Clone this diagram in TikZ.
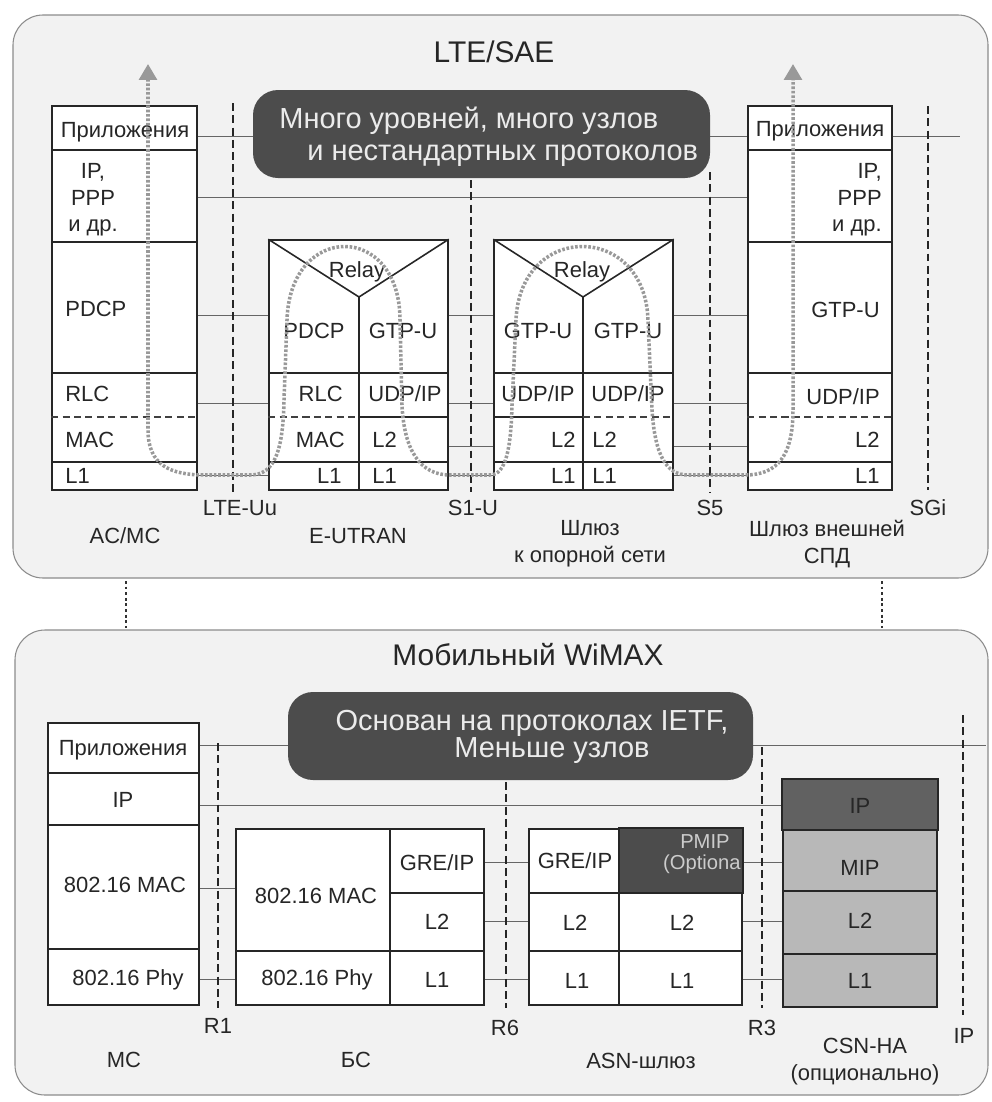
\documentclass[tikz,border=0pt]{standalone}
\usepackage{fontspec}
\setmainfont{Liberation Sans}
\usetikzlibrary{arrows.meta,fit}
\tikzset{
  panel/.style={draw=black!45, fill=black!5, line width=0.6pt, rounded corners=0.6cm},
  stack/.style={draw=black!85, fill=white, line width=0.9pt, inner sep=0pt},
  row/.style={draw=black!85, line width=0.9pt},
  subrow/.style={draw=black!75, line width=0.9pt, dash pattern=on 4pt off 2.5pt},
  link/.style={draw=black!60, line width=0.5pt},
  iface/.style={draw=black!85, line width=0.8pt, dash pattern=on 4.5pt off 2.5pt},
  joint/.style={draw=black!80, line width=1.6pt, dash pattern=on 1.6pt off 1.6pt},
  banner/.style={fill=black!70, rounded corners=0.5cm},
  bannertext/.style={text=white!92!black},
  datapath/.style={draw=black!40, line width=2pt, dash pattern=on 1.5pt off 1pt,
    {Triangle[width=10pt,length=9pt]}-{Triangle[width=10pt,length=9pt]}},
}
\begin{document}
\begin{tikzpicture}[x=0.02cm, y=-0.02cm, font=\fontsize{12.5}{15}\selectfont,
    every node/.style={inner sep=0pt, text=black!85}]
\fill[white] (0,0) rectangle (991,1102);
\useasboundingbox (0,0) rectangle (991,1102);

% panels
\draw[panel] (13,15) rectangle (988,578);
\draw[panel] (15,630) rectangle (988,1095);
\draw[joint] (126,581) -- (126,628);
\draw[joint] (882,581) -- (882,628);

% ---------------- LTE/SAE ----------------
\node[anchor=base, font=\fontsize{17}{20}\selectfont] (lte-title) at (494,62) {LTE/SAE};

\coordinate (lte-app-end) at (960,136);
\node[stack, fit={(52,106) (197,490)}] (ue) {};
\node[stack, fit={(269,240) (448,490)}] (enb) {};
\node[stack, fit={(494,240) (673,490)}] (sgw) {};
\node[stack, fit={(748,106) (892,490)}] (pgw) {};

% links between stacks
\draw[link] (ue.east |- 0,136) -- (pgw.west |- 0,136);
\draw[link] (pgw.east |- 0,136) -- (lte-app-end);
\draw[link] (ue.east |- 0,197) -- (pgw.west |- 0,197);
\foreach \y in {315,403,475} {
  \draw[link] (ue.east |- 0,\y) -- (enb.west |- 0,\y);
  \draw[link] (enb.east |- 0,\y) -- (sgw.west |- 0,\y);
  \draw[link] (sgw.east |- 0,\y) -- (pgw.west |- 0,\y);
}
\draw[link] (enb.east |- 0,446) -- (sgw.west |- 0,446);
\draw[link] (sgw.east |- 0,446) -- (pgw.west |- 0,446);

% AC/MC
\foreach \y in {150,242,373,462} \draw[row] (ue.west |- 0,\y) -- (ue.east |- 0,\y);
\draw[subrow] (ue.west |- 0,417) -- (ue.east |- 0,417);
\node[anchor=base] (ue-app) at (125,137) {Приложения};
\node[align=center] (ue-ip) at (93,200) {IP,\\PPP\\и др.};
\node[anchor=base west] (ue-pdcp) at (65,316) {PDCP};
\node[anchor=base west] (ue-rlc) at (65,401) {RLC};
\node[anchor=base west] (ue-mac) at (65,447) {MAC};
\node[anchor=base west] (ue-l1) at (65,483) {L1};

% E-UTRAN
\coordinate (enb-v) at (359,297);
\draw[row] (enb.north west) -- (enb-v) -- (enb.north east);
\draw[row] (enb-v) -- (enb-v |- enb.south);
\foreach \y in {373,462} \draw[row] (enb.west |- 0,\y) -- (enb.east |- 0,\y);
\draw[subrow] (enb.west |- 0,417) -- (enb-v |- 0,417);
\draw[row] (enb-v |- 0,417) -- (enb.east |- 0,417);
\node[anchor=base] (enb-relay) at (357,277) {Relay};
\node[anchor=base] (enb-pdcp) at (314,338) {PDCP};
\node[anchor=base] (enb-gtp) at (403,338) {GTP-U};
\node[anchor=base east] (enb-rlc) at (343,401) {RLC};
\node[anchor=base] (enb-udp) at (405,401) {UDP/IP};
\node[anchor=base east] (enb-mac) at (345,447) {MAC};
\node[anchor=base west] (enb-l2) at (372,447) {L2};
\node[anchor=base east] (enb-l1a) at (342,483) {L1};
\node[anchor=base west] (enb-l1b) at (372,483) {L1};

% core gateway
\coordinate (sgw-v) at (583,297);
\draw[row] (sgw.north west) -- (sgw-v) -- (sgw.north east);
\draw[row] (sgw-v) -- (sgw-v |- sgw.south);
\foreach \y in {373,462} \draw[row] (sgw.west |- 0,\y) -- (sgw.east |- 0,\y);
\draw[row] (sgw.west |- 0,417) -- (sgw-v |- 0,417);
\draw[subrow] (sgw-v |- 0,417) -- (sgw.east |- 0,417);
\node[anchor=base] (sgw-relay) at (582,277) {Relay};
\node[anchor=base] (sgw-gtpa) at (538,338) {GTP-U};
\node[anchor=base] (sgw-gtpb) at (628,338) {GTP-U};
\node[anchor=base] (sgw-udpa) at (538,401) {UDP/IP};
\node[anchor=base] (sgw-udpb) at (628,401) {UDP/IP};
\node[anchor=base east] (sgw-l2a) at (576,447) {L2};
\node[anchor=base west] (sgw-l2b) at (592,447) {L2};
\node[anchor=base east] (sgw-l1a) at (576,483) {L1};
\node[anchor=base west] (sgw-l1b) at (592,483) {L1};

% external PDN gateway
\foreach \y in {150,242,373,462} \draw[row] (pgw.west |- 0,\y) -- (pgw.east |- 0,\y);
\draw[subrow] (pgw.west |- 0,417) -- (pgw.east |- 0,417);
\node[anchor=base] (pgw-app) at (820,136) {Приложения};
\node[anchor=east, align=right] (pgw-ip) at (882,200) {IP,\\PPP\\и др.};
\node[anchor=base east] (pgw-gtp) at (880,317) {GTP-U};
\node[anchor=base east] (pgw-udp) at (880,404) {UDP/IP};
\node[anchor=base east] (pgw-l2) at (880,447) {L2};
\node[anchor=base east] (pgw-l1) at (880,483) {L1};

% banner
\fill[banner] (253,90) rectangle (710,178);
\node[bannertext, anchor=west, align=left, font=\fontsize{16.5}{18}\selectfont] (lte-note) at (279,137)
  {Много уровней, много узлов\\\hspace*{0.56cm}и нестандартных протоколов};

% interfaces
\draw[iface] (233,103) -- (233,492);
\draw[iface] (471,180) -- (471,492);
\draw[iface] (710,172) -- (710,492);
\draw[iface] (928,106) -- (928,490);
\node[anchor=base] (lte-uu) at (240,515) {LTE-Uu};
\node[anchor=base] (s1u) at (473,515) {S1-U};
\node[anchor=base] (s5) at (710,515) {S5};
\node[anchor=base] (sgi) at (928,515) {SGi};
\node[anchor=base] (ue-name) at (125,543) {AC/MC};
\node[anchor=base] (enb-name) at (358,543) {E-UTRAN};
\node[anchor=base, align=center] (sgw-name) at (590,562) {Шлюз\\к опорной сети};
\node[anchor=base, align=center] (pgw-name) at (827,563) {Шлюз внешней\\СПД};

% user plane path
\draw[datapath] (148,64) -- (148,430)
  .. controls (148,465) and (170,475) .. (205,475) -- (250,475)
  .. controls (276,475) and (283,448) .. (284,400) -- (287,320)
  .. controls (290,222) and (400,222) .. (400,320) -- (402,405)
  .. controls (404,450) and (420,475) .. (450,475) -- (490,475)
  .. controls (506,475) and (511,448) .. (512,405) -- (516,320)
  .. controls (520,222) and (645,222) .. (648,320) -- (652,410)
  .. controls (655,455) and (666,475) .. (688,475) -- (745,475)
  .. controls (778,475) and (793,455) .. (793,410) -- (793,64);

% ---------------- Mobile WiMAX ----------------
\node[anchor=base, font=\fontsize{17}{20}\selectfont] (wmx-title) at (528,665) {Мобильный WiMAX};

\coordinate (wmx-app-end) at (986,745);
\node[stack, fit={(48,723) (199,1005)}] (ms) {};
\node[stack, fit={(236,829) (484,1005)}] (bs) {};
\node[stack, fit={(529,829) (742,1005)}] (asn) {};
\node[stack, fill=black!28, fit={(783,780) (937,1007)}] (csn) {};

% links between stacks
\draw[link] (ms.east |- 0,745) -- (wmx-app-end);
\draw[link] (ms.east |- 0,805) -- (csn.west |- 0,805);
\foreach \y in {888,979} \draw[link] (ms.east |- 0,\y) -- (bs.west |- 0,\y);
\foreach \y in {862,921,979} {
  \draw[link] (bs.east |- 0,\y) -- (asn.west |- 0,\y);
  \draw[link] (asn.east |- 0,\y) -- (csn.west |- 0,\y);
}

% MS
\foreach \y in {773,825,949} \draw[row] (ms.west |- 0,\y) -- (ms.east |- 0,\y);
\node[anchor=base] (ms-app) at (123,755) {Приложения};
\node[anchor=base] (ms-ip) at (123,807) {IP};
\node[anchor=base] (ms-mac) at (125,892) {802.16 MAC};
\node[anchor=base] (ms-phy) at (128,985) {802.16 Phy};

% BS
\draw[row] (390,0 |- bs.north) -- (390,0 |- bs.south);
\draw[row] (390,893) -- (bs.east |- 0,893);
\draw[row] (bs.west |- 0,951) -- (bs.east |- 0,951);
\node[anchor=base] (bs-mac) at (316,903) {802.16 MAC};
\node[anchor=base] (bs-phy) at (317,985) {802.16 Phy};
\node[anchor=base] (bs-gre) at (437,870) {GRE/IP};
\node[anchor=base] (bs-l2) at (437,929) {L2};
\node[anchor=base] (bs-l1) at (437,987) {L1};

% ASN gateway
\draw[row, fill=black!70] (619,0 |- asn.north) rectangle (asn.east |- 0,893);
\draw[row] (619,0 |- asn.north) -- (619,0 |- asn.south);
\foreach \y in {893,951} \draw[row] (asn.west |- 0,\y) -- (asn.east |- 0,\y);
\node[anchor=base] (asn-gre) at (575,868) {GRE/IP};
\node[anchor=base east, text=white!80!black, font=\fontsize{11.5}{13}\selectfont] (asn-pmip) at (730,848) {PMIP};
\node[anchor=base east, text=white!80!black, font=\fontsize{11.5}{13}\selectfont] (asn-opt) at (741,869) {(Optiona};
\node[anchor=base] (asn-l2a) at (575,930) {L2};
\node[anchor=base] (asn-l2b) at (682,930) {L2};
\node[anchor=base] (asn-l1a) at (577,988) {L1};
\node[anchor=base] (asn-l1b) at (682,988) {L1};

% CSN HA
\draw[row, fill=black!62] (csn.north west) rectangle (csn.east |- 0,830);
\foreach \y in {891,954} \draw[row] (csn.west |- 0,\y) -- (csn.east |- 0,\y);
\node[anchor=base] (csn-ip) at (860,813) {IP};
\node[anchor=base] (csn-mip) at (860,875) {MIP};
\node[anchor=base] (csn-l2) at (860,928) {L2};
\node[anchor=base] (csn-l1) at (860,988) {L1};

% banner
\fill[banner] (288,692) rectangle (753,780);
\node[bannertext, align=center, font=\fontsize{16.5}{15.5}\selectfont] (wmx-note) at (532,737)
  {Основан на протоколах IETF,\\\hspace*{0.8cm}Меньше узлов};

% interfaces
\draw[iface] (218,743) -- (218,1008);
\draw[iface] (506,782) -- (506,1008);
\draw[iface] (762,747) -- (762,1008);
\draw[iface] (963,715) -- (963,1015);
\node[anchor=base] (r1) at (218,1033) {R1};
\node[anchor=base] (r6) at (505,1035) {R6};
\node[anchor=base] (r3) at (762,1035) {R3};
\node[anchor=base] (ip-ref) at (964,1043) {IP};
\node[anchor=base] (ms-name) at (124,1067) {МС};
\node[anchor=base] (bs-name) at (356,1067) {БС};
\node[anchor=base] (asn-name) at (641,1068) {ASN-шлюз};
\node[anchor=base, align=center] (csn-name) at (865,1080) {CSN-HA\\(опционально)};
\end{tikzpicture}
\end{document}
